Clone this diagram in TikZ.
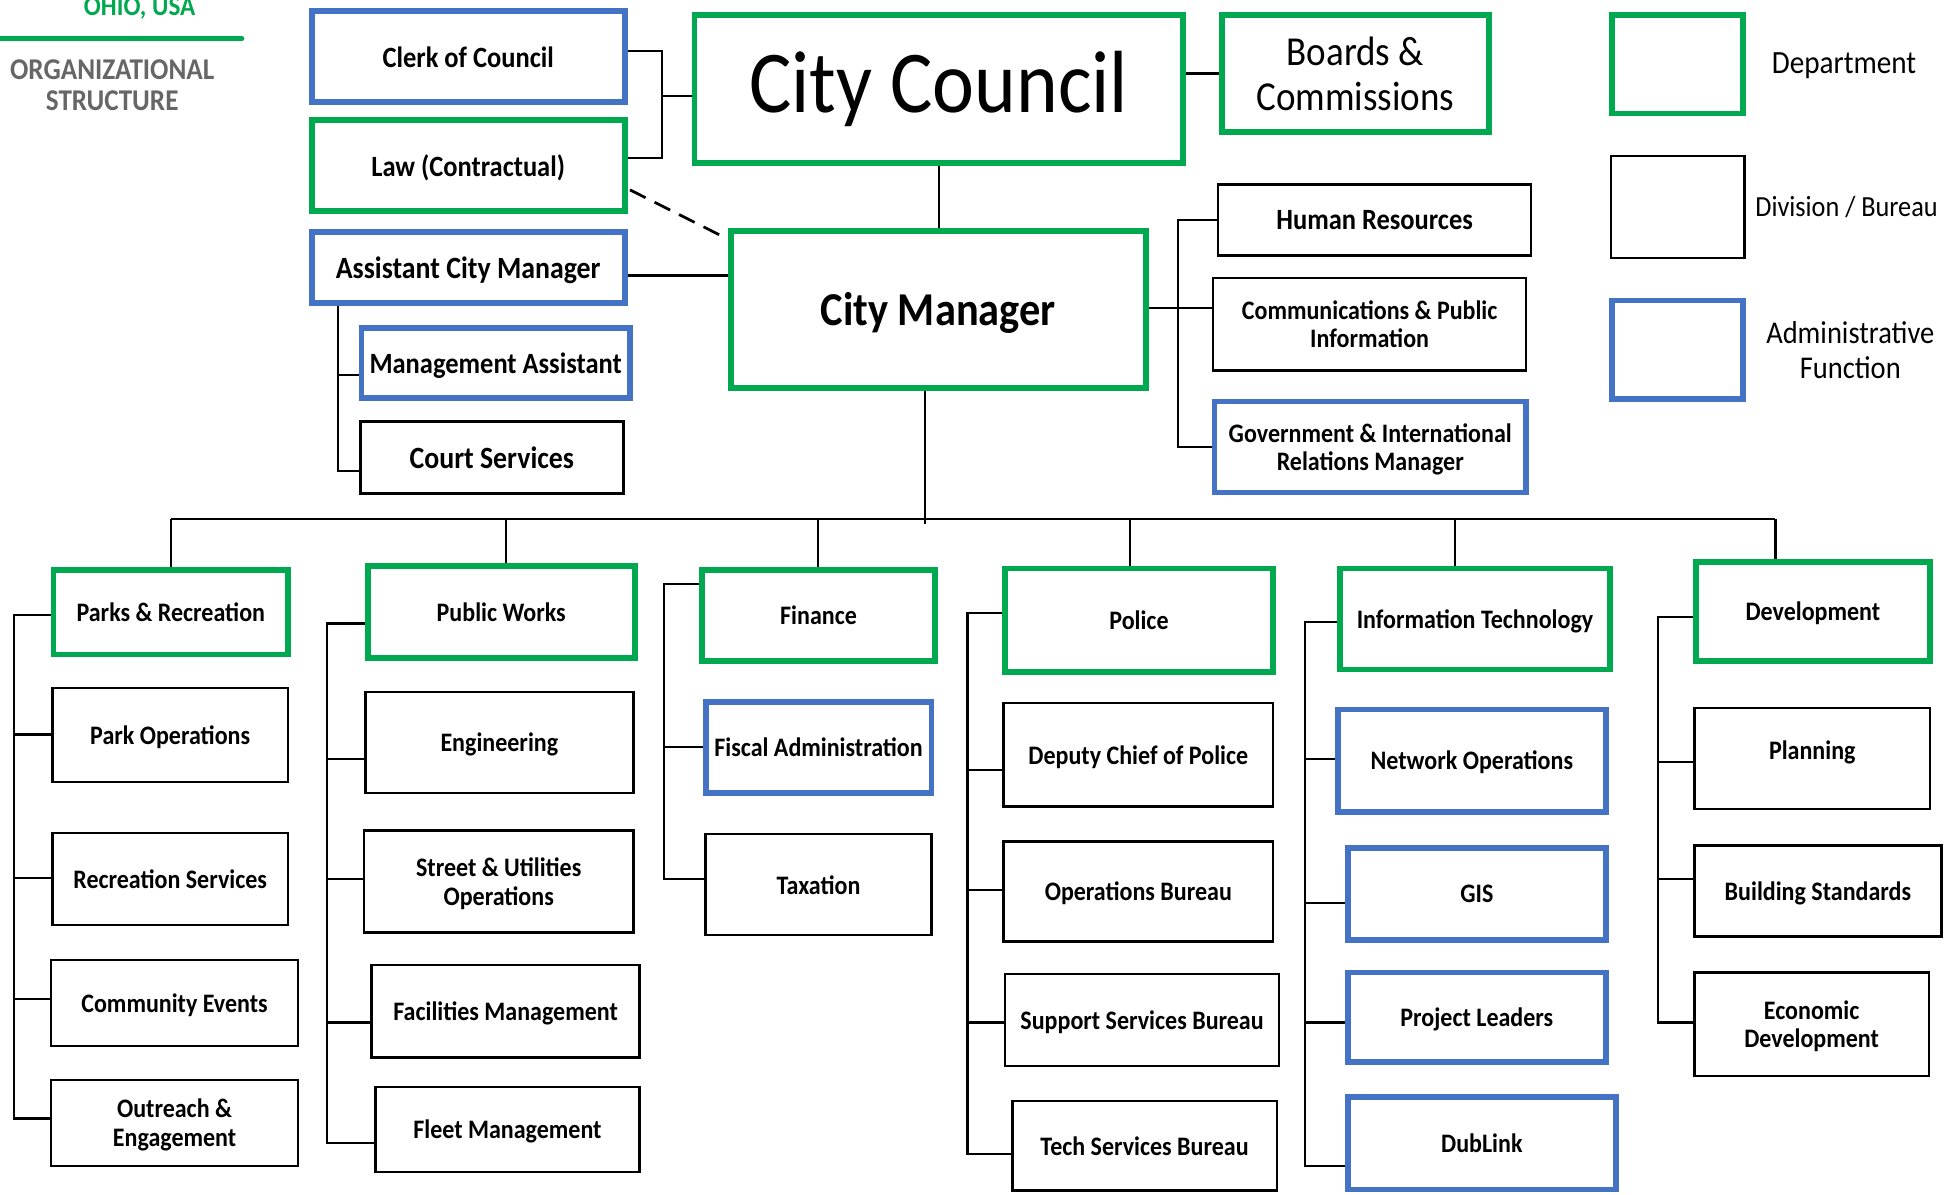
\documentclass[tikz,border=0pt]{standalone}
\usepackage{fontspec}
\setmainfont{Carlito}[FakeStretch=0.9]
\usetikzlibrary{calc}
\definecolor{deptgreen}{HTML}{00A84F}
\definecolor{adminblue}{HTML}{4472C4}
\definecolor{headgrey}{HTML}{666666}

% box from (x1,y1) to (x2,y2), y measured downwards
\newcommand\bx[7]{\node[#6, minimum width={(#4-#2)*0.5pt}, minimum height={(#5-#3)*0.5pt}] (#1) at ({(#2+#4)/2},{(#3+#5)/2}) {#7};}

\tikzset{
  base/.style={rectangle, align=center, inner sep=0pt, text depth=0pt, font=\bfseries\fontsize{10.7}{11.5}\selectfont},
  dept/.style={base, draw=deptgreen, line width=2.3pt},
  admin/.style={base, draw=adminblue, line width=2.3pt},
  div/.style={base, draw=black, line width=1pt},
  fb/.style={font=\bfseries\fontsize{11.8}{13}\selectfont},
  fc/.style={font=\bfseries\fontsize{12.4}{13.5}\selectfont},
  fcouncil/.style={font=\fontsize{35.4}{40}\selectfont, text depth={}},
  fcm/.style={font=\bfseries\fontsize{18.9}{21}\selectfont},
  fboards/.style={font=\fontsize{16.5}{18}\selectfont},
  legtext/.style={align=center, inner sep=0pt},
  conn/.style={line width=0.9pt, draw=black},
}

\begin{document}
\begin{tikzpicture}[x=0.5pt, y=-0.5pt]
\useasboundingbox (0,0) rectangle (1568,958);

% ---- heading ----
\node[anchor=base, text=deptgreen, inner sep=0pt, font=\bfseries\fontsize{11.2}{12}\selectfont] (ohio) at (112,12.5) {OHIO, USA};
\draw[line width=2pt, draw=deptgreen, line cap=round] (0,31) -- (194,31);
\node[align=center, text=headgrey, inner sep=0pt, font=\bfseries\fontsize{12.1}{12.5}\selectfont] (orgtitle) at (90,68.5) {ORGANIZATIONAL\\STRUCTURE};

% ---- upper level ----
\bx{clerk}{250}{9}{501}{82}{admin,fb}{Clerk of Council}
\bx{law}{250}{96}{501}{169}{dept,fb}{Law (Contractual)}
\bx{acm}{250}{186}{501}{243}{admin,fc}{Assistant City Manager}
\bx{mgmt}{290}{263}{505}{319}{admin,fb}{Management Assistant}
\bx{court}{289}{338}{500}{396}{div,fc}{Court Services}
\bx{council}{557}{12}{949}{131}{dept,fcouncil}{City Council}
\bx{boards}{980}{12}{1194}{106}{dept,fboards}{Boards \&\\Commissions}
\bx{cm}{586}{185}{919}{311}{dept,fcm}{City Manager}
\bx{hr}{977}{148}{1228}{205}{div,fb}{Human Resources}
\bx{comms}{973}{223}{1224}{297}{div}{Communications \& Public\\Information}
\bx{gov}{974}{322}{1224}{395}{admin}{Government \& International\\Relations Manager}

% ---- legend ----
\bx{legdept}{1293}{12}{1398}{91}{dept}{}
\bx{legdiv}{1292}{125}{1399}{207}{div}{}
\bx{legadmin}{1293}{241}{1398}{320}{admin}{}
\node[legtext, font=\fontsize{13}{14}\selectfont] (legdepttxt) at (1479,53) {Department};
\node[legtext, font=\fontsize{11.7}{13}\selectfont] (legdivtxt) at (1481,166) {Division / Bureau};
\node[legtext, font=\fontsize{12.7}{14}\selectfont] (legadmintxt) at (1484,281) {Administrative\\Function};

% ---- departments ----
\bx{parks}{43}{457}{231}{525}{dept}{Parks \& Recreation}
\bx{parkops}{42}{552}{231}{627}{div}{Park Operations}
\bx{recserv}{42}{668}{231}{742}{div}{Recreation Services}
\bx{commev}{41}{770}{239}{839}{div}{Community Events}
\bx{outreach}{41}{866}{239}{935}{div}{Outreach \&\\Engagement}

\bx{pw}{295}{454}{509}{528}{dept}{Public Works}
\bx{eng}{293}{555}{508}{636}{div}{Engineering}
\bx{street}{292}{666}{508}{748}{div}{Street \& Utilities\\Operations}
\bx{facil}{298}{774}{513}{848}{div}{Facilities Management}
\bx{fleet}{301}{872}{513}{940}{div}{Fleet Management}

\bx{fin}{563}{457}{750}{530}{dept}{Finance}
\bx{fiscal}{566}{563}{747}{636}{admin}{Fiscal Administration}
\bx{tax}{566}{669}{747}{750}{div}{Taxation}

\bx{police}{806}{456}{1021}{539}{dept}{Police}
\bx{deputy}{805}{564}{1021}{647}{div}{Deputy Chief of Police}
\bx{opsb}{805}{675}{1021}{755}{div}{Operations Bureau}
\bx{supp}{806}{781}{1026}{855}{div}{Support Services Bureau}
\bx{tech}{812}{883}{1024}{955}{div}{Tech Services Bureau}

\bx{it}{1075}{456}{1291}{537}{dept}{Information Technology}
\bx{netops}{1073}{569}{1288}{651}{admin}{Network Operations}
\bx{gis}{1081}{680}{1288}{754}{admin}{GIS}
\bx{projl}{1081}{780}{1288}{852}{admin}{Project Leaders}
\bx{dublink}{1081}{880}{1296}{954}{admin}{DubLink}

\bx{dev}{1360}{451}{1548}{530}{dept}{Development}
\bx{plan}{1359}{568}{1548}{649}{div}{\raisebox{3.5pt}[\height][\depth]{Planning}}
\bx{build}{1359}{678}{1557}{751}{div}{Building Standards}
\bx{econ}{1359}{780}{1547}{863}{div}{Economic\\Development}

% ---- upper connectors ----
\coordinate (ccbar) at (531,0);
\draw[conn] (clerk.east |- 0,41) -- (ccbar |- 0,41) -- (ccbar |- 0,127) -- (law.east |- 0,127);
\draw[conn] (ccbar |- 0,77) -- (council.west |- 0,77);
\draw[conn] (council.east |- boards.west) -- (boards.west);
\draw[conn] (council.south) -- (council.south |- cm.north);
\draw[conn, line width=1.1pt, dash pattern=on 7pt off 4pt] ($(law.south east)+(2,-19)$) -- ($(cm.north west)+(-2,8)$);
\draw[conn] (acm.east |- 0,221) -- (cm.west |- 0,221);

\coordinate (acmbar) at (271,0);
\draw[conn] (acmbar |- acm.south) -- (acmbar |- 0,378) -- (court.west |- 0,378);
\draw[conn] (acmbar |- 0,301) -- (mgmt.west |- 0,301);

\coordinate (cmbar) at (945,0);
\draw[conn] (hr.west) -- (cmbar |- hr.west) -- (cmbar |- gov.west) -- (gov.west);
\draw[conn] (cm.east |- 0,247) -- (comms.west |- 0,247);

% ---- main bus ----
\coordinate (busL) at (137,416);
\coordinate (busR) at (1424,416);
\draw[conn] (busL) -- (busR);
\draw[conn] (742,0 |- cm.south) -- (742,420);
\draw[conn] (busL) -- (137,0 |- parks.north);
\draw[conn] (406,0 |- busL) -- (406,0 |- pw.north);
\draw[conn] (656,0 |- busL) -- (656,0 |- fin.north);
\draw[conn] (906,0 |- busL) -- (906,0 |- police.north);
\draw[conn] (1167,0 |- busL) -- (1167,0 |- it.north);
\draw[conn] (busR) -- (1424,0 |- dev.north);

% ---- column connectors ----
\coordinate (parksbar) at (11,0);
\draw[conn] (parks.west |- 0,493) -- (parksbar |- 0,493) -- (parksbar |- 0,897) -- (outreach.west |- 0,897);
\draw[conn] (parksbar |- 0,589) -- (parkops.west |- 0,589);
\draw[conn] (parksbar |- 0,704) -- (recserv.west |- 0,704);
\draw[conn] (parksbar |- 0,801) -- (commev.west |- 0,801);

\coordinate (pwbar) at (262.5,0);
\draw[conn] (pw.west |- 0,500) -- (pwbar |- 0,500) -- (pwbar |- 0,916.5) -- (fleet.west |- 0,916.5);
\draw[conn] (pwbar |- 0,609) -- (eng.west |- 0,609);
\draw[conn] (pwbar |- 0,705) -- (street.west |- 0,705);
\draw[conn] (pwbar |- 0,820) -- (facil.west |- 0,820);

\coordinate (finbar) at (532.5,0);
\draw[conn] (fin.west |- 0,468.6) -- (finbar |- 0,468.6) -- (finbar |- 0,705) -- (tax.west |- 0,705);
\draw[conn] (finbar |- 0,599) -- (fiscal.west |- 0,599);

\coordinate (policebar) at (776,0);
\draw[conn] (police.west |- 0,491.6) -- (policebar |- 0,491.6) -- (policebar |- 0,925.6) -- (tech.west |- 0,925.6);
\draw[conn] (policebar |- 0,617.6) -- (deputy.west |- 0,617.6);
\draw[conn] (policebar |- 0,714) -- (opsb.west |- 0,714);
\draw[conn] (policebar |- 0,820) -- (supp.west |- 0,820);

\coordinate (itbar) at (1046.4,0);
\draw[conn] (it.west |- 0,498.6) -- (itbar |- 0,498.6) -- (itbar |- 0,935) -- (dublink.west |- 0,935);
\draw[conn] (itbar |- 0,608.6) -- (netops.west |- 0,608.6);
\draw[conn] (itbar |- 0,724) -- (gis.west |- 0,724);
\draw[conn] (itbar |- 0,820) -- (projl.west |- 0,820);

\coordinate (devbar) at (1330,0);
\draw[conn] (dev.west |- 0,495) -- (devbar |- 0,495) -- (devbar |- 0,820) -- (econ.west |- 0,820);
\draw[conn] (devbar |- 0,611) -- (plan.west |- 0,611);
\draw[conn] (devbar |- 0,705) -- (build.west |- 0,705);
\end{tikzpicture}
\end{document}
